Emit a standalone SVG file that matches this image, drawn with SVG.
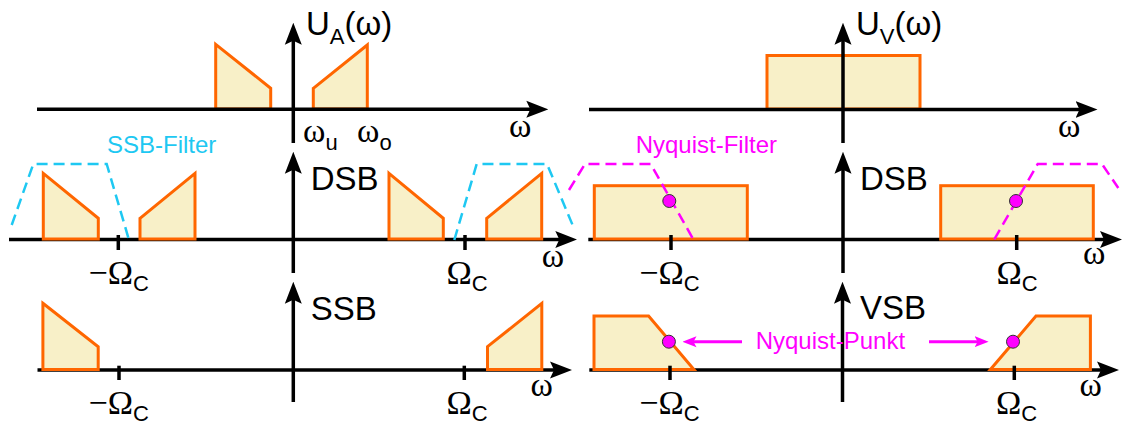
<svg xmlns="http://www.w3.org/2000/svg" width="1123" height="425" viewBox="0 0 1123 425">
<style>
.ax{stroke:#000;stroke-width:3.5;fill:none}
.tk{stroke:#000;stroke-width:3.5}
.sp{fill:#f8f0c8;stroke:#ff6600;stroke-width:3;stroke-linejoin:miter}
.cy{fill:none;stroke:#1ec8f2;stroke-width:2.5;stroke-dasharray:11,6}
.mg{fill:none;stroke:#ff00ff;stroke-width:2.5;stroke-dasharray:11,6}
.dot{fill:#ff00ff;stroke:#333;stroke-width:1}
.lbl{font-family:"Liberation Sans",Arial,sans-serif;font-size:33px;fill:#000}
.sub{font-family:"Liberation Sans",Arial,sans-serif;font-size:22px}
.gr{font-family:"Liberation Serif","Times New Roman",serif;font-size:34px;fill:#000}
.ann{font-family:"Liberation Sans",Arial,sans-serif;font-size:24px}
</style>
<defs>
<marker id="ah" markerUnits="userSpaceOnUse" viewBox="-12 -9 22 18" refX="0" refY="0" markerWidth="22" markerHeight="18" orient="auto">
<path d="M-12,-8.5 L10,0 L-12,8.5 L-8,0 Z" fill="#000"/>
</marker>
<marker id="mh" markerUnits="userSpaceOnUse" viewBox="-8 -6 14 12" refX="0" refY="0" markerWidth="14" markerHeight="12" orient="auto">
<path d="M-8,-5.5 L6,0 L-8,5.5 L-5,0 Z" fill="#ff00ff"/>
</marker>
</defs>

<!-- Top left: U_A -->
<g id="panel-ua">
<polygon class="sp" points="215.7,44.3 270.7,88.3 270.7,109 215.7,109"/>
<polygon class="sp" points="313.3,88.3 367.3,45 367.3,109 313.3,109"/>
<line class="ax" x1="37" y1="109.3" x2="538.3" y2="109.3" marker-end="url(#ah)"/>
<line class="ax" x1="293.3" y1="143" x2="293.3" y2="32.7" marker-end="url(#ah)"/>
<text class="lbl" x="306" y="35" font-size="32">U<tspan class="sub" dy="9">A</tspan><tspan dy="-9">(ω)</tspan></text>
<text class="gr" x="303" y="142">ω<tspan class="sub" dy="8">u</tspan></text>
<text class="gr" x="357" y="142">ω<tspan class="sub" dy="8">o</tspan></text>
<text class="gr" x="509" y="137">ω</text>
</g>

<!-- Top right: U_V -->
<g id="panel-uv">
<rect class="sp" x="767" y="55.5" width="153" height="53.5"/>
<line class="ax" x1="589" y1="109.5" x2="1087.5" y2="109.5" marker-end="url(#ah)"/>
<line class="ax" x1="843" y1="143" x2="843" y2="32.7" marker-end="url(#ah)"/>
<text class="lbl" x="856" y="35" font-size="32">U<tspan class="sub" dy="9">V</tspan><tspan dy="-9">(ω)</tspan></text>
<text class="gr" x="1058" y="137">ω</text>
</g>

<!-- Middle left: DSB with SSB filter -->
<g id="panel-dsb-left">
<line class="ax" x1="9" y1="239.5" x2="567.3" y2="239.5" marker-end="url(#ah)"/>
<line class="ax" x1="293.3" y1="273" x2="293.3" y2="161.7" marker-end="url(#ah)"/>
<polygon class="sp" points="43.3,173.3 98.3,218.3 98.3,239 43.3,239"/>
<polygon class="sp" points="140,218.3 195,173.3 195,239 140,239"/>
<polygon class="sp" points="389,173.3 443.3,218.3 443.3,239 389,239"/>
<polygon class="sp" points="486.7,218.3 541.7,173.3 541.7,239 486.7,239"/>
<line class="tk" x1="118.3" y1="235" x2="118.3" y2="250"/>
<line class="tk" x1="465" y1="235" x2="465" y2="250"/>
<polyline class="cy" points="11.7,225 33.3,164 106.7,164 129,240"/>
<polyline class="cy" points="454.3,240 476.7,164 547,164 573,226"/>
<text class="ann" x="107" y="153" fill="#1ec8f2">SSB-Filter</text>
<text class="lbl" x="310.7" y="190">DSB</text>
<text class="gr" x="88.6" y="284">−Ω<tspan class="sub" dy="7">C</tspan></text>
<text class="gr" x="446.4" y="284">Ω<tspan class="sub" dy="7">C</tspan></text>
<text class="gr" x="541.7" y="267">ω</text>
</g>

<!-- Middle right: DSB with Nyquist filter -->
<g id="panel-dsb-right">
<line class="ax" x1="588.3" y1="239.5" x2="1112" y2="239.5" marker-end="url(#ah)"/>
<line class="ax" x1="843" y1="273" x2="843" y2="161.7" marker-end="url(#ah)"/>
<rect class="sp" x="594.3" y="185.7" width="153" height="53.3"/>
<rect class="sp" x="940.7" y="185.7" width="152.6" height="53.3"/>
<line class="tk" x1="671" y1="235" x2="671" y2="250"/>
<line class="tk" x1="1016.7" y1="235" x2="1016.7" y2="250"/>
<polyline class="mg" points="569,190 585,164 650.7,164 693.3,239.3"/>
<polyline class="mg" points="994.3,239.3 1037.7,164 1102,164 1118.3,188"/>
<circle class="dot" cx="669.3" cy="201" r="6.5"/>
<circle class="dot" cx="1016" cy="201" r="6.5"/>
<text class="ann" x="635.7" y="153.3" fill="#ff00ff">Nyquist-Filter</text>
<text class="lbl" x="860" y="190">DSB</text>
<text class="gr" x="639.3" y="284">−Ω<tspan class="sub" dy="7">C</tspan></text>
<text class="gr" x="996.5" y="284">Ω<tspan class="sub" dy="7">C</tspan></text>
<text class="gr" x="1083" y="264">ω</text>
</g>

<!-- Bottom left: SSB -->
<g id="panel-ssb">
<line class="ax" x1="37.5" y1="370" x2="562" y2="370" marker-end="url(#ah)"/>
<line class="ax" x1="293.3" y1="402" x2="293.3" y2="291.7" marker-end="url(#ah)"/>
<polygon class="sp" points="42.9,303.3 98.2,346.7 98.2,369.5 42.9,369.5"/>
<polygon class="sp" points="487.5,346.7 541.8,303.3 541.8,369.5 487.5,369.5"/>
<line class="tk" x1="119" y1="365.7" x2="119" y2="380"/>
<line class="tk" x1="464.3" y1="365.7" x2="464.3" y2="380"/>
<text class="lbl" x="310.7" y="320">SSB</text>
<text class="gr" x="88.6" y="414">−Ω<tspan class="sub" dy="7">C</tspan></text>
<text class="gr" x="446.4" y="414">Ω<tspan class="sub" dy="7">C</tspan></text>
<text class="gr" x="530.4" y="395.5">ω</text>
</g>

<!-- Bottom right: VSB -->
<g id="panel-vsb">
<line class="ax" x1="589.3" y1="370" x2="1109" y2="370" marker-end="url(#ah)"/>
<line class="ax" x1="842.5" y1="402" x2="842.5" y2="291.7" marker-end="url(#ah)"/>
<polygon class="sp" points="594,369.5 594,316 648.6,316 693.9,369.5"/>
<polygon class="sp" points="990.4,369.5 1036,316 1090.4,316 1090.4,369.5"/>
<line class="tk" x1="670" y1="365.7" x2="670" y2="380"/>
<line class="tk" x1="1014.3" y1="365.7" x2="1014.3" y2="380"/>
<circle class="dot" cx="668.9" cy="341.7" r="6.5"/>
<circle class="dot" cx="1013" cy="341.7" r="6.5"/>
<text class="lbl" x="860" y="319.3">VSB</text>
<text class="gr" x="639.3" y="414">−Ω<tspan class="sub" dy="7">C</tspan></text>
<text class="gr" x="996" y="414">Ω<tspan class="sub" dy="7">C</tspan></text>
<text class="gr" x="1079.6" y="395.5">ω</text>
</g>

<!-- Nyquist-Punkt annotation -->
<g id="connectors">
<line x1="742" y1="341.7" x2="688.5" y2="341.7" stroke="#ff00ff" stroke-width="3" marker-end="url(#mh)"/>
<line x1="929" y1="341.7" x2="982.6" y2="341.7" stroke="#ff00ff" stroke-width="3" marker-end="url(#mh)"/>
</g>
<g id="nyquist-punkt">
<text class="ann" x="755.7" y="349" fill="#ff00ff">Nyquist-Punkt</text>
</g>
</svg>
